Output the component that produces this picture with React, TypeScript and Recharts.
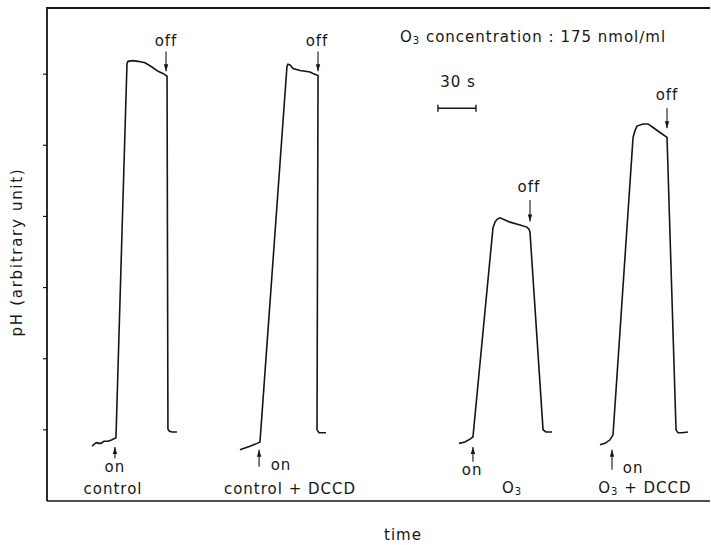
import React from 'react';
import { ComposedChart, Line, XAxis, YAxis, Scatter, ReferenceLine } from 'recharts';

const FONT = '"DejaVu Sans", "Liberation Sans", sans-serif';
const INK = '#161616';

// Recorded traces: [time (s), pH (arbitrary unit)]
const controlTrace: [number, number][] = [
  [35.5, 0.77], [37.9, 0.81], [39.5, 0.82], [41.0, 0.81], [42.6, 0.81], [44.9, 0.84],
  [48.1, 0.84], [51.3, 0.86], [54.4, 0.89], [63.1, 6.15], [63.9, 6.18], [67.8, 6.19],
  [71.8, 6.18], [77.3, 6.16], [82.8, 6.10], [87.6, 6.04], [91.5, 6.01], [94.7, 5.97],
  [95.4, 1.01], [96.6, 0.98], [98.6, 0.97], [102.5, 0.97],
];
const controlDccdTrace: [number, number][] = [
  [152.2, 0.72], [160.1, 0.77], [165.7, 0.81], [168.0, 0.83], [189.3, 6.11], [190.1, 6.14],
  [191.7, 6.13], [194.1, 6.08], [199.6, 6.05], [207.5, 6.03], [209.8, 6.01], [213.8, 5.98],
  [213.0, 1.00], [214.6, 0.96], [220.1, 0.96],
];
const ozoneTrace: [number, number][] = [
  [325.0, 0.81], [329.7, 0.83], [333.7, 0.87], [336.0, 0.90], [351.8, 3.84], [353.4, 3.92],
  [355.0, 3.96], [357.3, 3.98], [365.2, 3.92], [373.1, 3.88], [378.6, 3.85], [380.2, 3.82],
  [381.0, 3.78], [391.3, 1.00], [393.6, 0.97], [398.4, 0.97],
];
const ozoneDccdTrace: [number, number][] = [
  [436.2, 0.79], [440.2, 0.81], [444.1, 0.86], [446.5, 0.93], [462.3, 5.11], [463.9, 5.21],
  [465.4, 5.27], [470.2, 5.30], [474.1, 5.30], [478.1, 5.25], [483.6, 5.18], [489.1, 5.11],
  [496.2, 1.00], [497.8, 0.96], [501.0, 0.96], [505.6, 0.97],
];

// Condition labels under each trace: [time, level, text]
const conditionLabels: [number, number, string][] = [
  [52.1, 0.17, 'control'],
  [191.7, 0.17, 'control + DCCD'],
  [366.8, 0.18, 'O₃'],
  [471.7, 0.18, 'O₃ + DCCD'],
];

// "on" / "off" markers: [time, arrow tip level, arrow tail level]
const onArrows: [number, number, number][] = [
  [53.6, 0.76, 0.60],
  [167.3, 0.72, 0.48],
  [336.0, 0.76, 0.55],
  [445.7, 0.72, 0.44],
];
const offArrows: [number, number, number][] = [
  [93.9, 6.04, 6.32],
  [213.8, 6.04, 6.32],
  [381.0, 3.93, 4.23],
  [489.1, 5.24, 5.52],
];
// marker texts: [time, level, text]
const markerTexts: [number, number, string][] = [
  [53.6, 0.48, 'on'], [184.6, 0.51, 'on'], [335.3, 0.44, 'on'], [462.3, 0.46, 'on'],
  [93.9, 6.46, 'off'], [213.0, 6.46, 'off'], [380.2, 4.41, 'off'], [489.1, 5.70, 'off'],
];

const noteTexts: [number, number, string][] = [
  [383.4, 6.52, 'O₃ concentration : 175 nmol∕ml'],
  [324.2, 5.89, '30 s'],
];

const scaleBarStart = 308.4;
const scaleBarSeconds = 30;
const scaleBarLevel = 5.52;

const yTicks = [1, 2, 3, 4, 5, 6];
const timeDomain = [0, 523];
const phDomain = [0, 7];
const frameTop = 6.93;

const toPoints = (arr: [number, number][]) => arr.map(([t, v]) => ({ t, v }));
const toTexts = (arr: [number, number, string][]) => arr.map(([t, v, text]) => ({ t, v, text }));

const traces = [controlTrace, controlDccdTrace, ozoneTrace, ozoneDccdTrace].map(toPoints);
const textPoints = [...toTexts(conditionLabels), ...toTexts(markerTexts), ...toTexts(noteTexts)];
const arrowTips = [...onArrows, ...offArrows].map(([t, tip, tail]) => ({ t, v: tip, down: tip < tail }));
const arrowShafts = [...onArrows, ...offArrows];
const frame = [{ t: timeDomain[0], v: 0 }, { t: timeDomain[0], v: frameTop }, { t: timeDomain[1], v: frameTop }];

function rich(text: string) {
  const parts = text.split('₃');
  const out: React.ReactNode[] = [];
  parts.forEach((p, i) => {
    if (p.length) out.push(<tspan key={'p' + i} dy={i > 0 ? -3 : 0}>{p}</tspan>);
    if (i < parts.length - 1) out.push(<tspan key={'s' + i} fontSize={10} dy={3}>3</tspan>);
  });
  return out;
}

const TextShape = (props: any) => {
  const { cx, cy, payload } = props;
  if (cx == null || cy == null) return <g />;
  return (
    <text x={cx} y={cy} textAnchor="middle" dominantBaseline="central" fontFamily={FONT}
      fontSize={15} letterSpacing={1} fill={INK}>
      {rich(payload.text)}
    </text>
  );
};

const ArrowHead = (props: any) => {
  const { cx, cy, payload } = props;
  if (cx == null || cy == null) return <g />;
  const d = payload.down ? 1 : -1;
  const pts = `${cx},${cy} ${cx - 2.2},${cy - d * 7} ${cx + 2.2},${cy - d * 7}`;
  return <polygon points={pts} fill={INK} />;
};

const YTitle = (props: any) => {
  const vb = props.viewBox || { x: 46, y: 3, width: 1, height: 498 };
  const x = vb.x + vb.width - 30;
  const y = vb.y + vb.height / 2;
  return (
    <text x={x} y={y} transform={`rotate(-90 ${x} ${y})`} textAnchor="middle" dominantBaseline="central"
      fontFamily={FONT} fontSize={15} letterSpacing={1.7} fill={INK}>
      pH (arbitrary unit)
    </text>
  );
};

const XTitle = (props: any) => {
  const vb = props.viewBox || { x: 47, y: 501, width: 663, height: 1 };
  return (
    <text x={vb.x + 356} y={vb.y + 34} textAnchor="middle" dominantBaseline="central"
      fontFamily={FONT} fontSize={15} letterSpacing={1} fill={INK}>
      time
    </text>
  );
};

const EmptyTick = () => <g />;

export default function App() {
  return (
    <div style={{ position: 'absolute', left: 0, top: 0, width: 711, height: 545, background: '#fff' }}>
      <ComposedChart width={711} height={545} margin={{ top: 3, right: 1, bottom: 43, left: 46 }}>
        <XAxis type="number" dataKey="t" domain={timeDomain} height={1} tick={false} tickLine={false}
          axisLine={{ stroke: INK, strokeWidth: 1.6 }} label={<XTitle />} />
        <YAxis type="number" dataKey="v" domain={phDomain} ticks={yTicks} interval={0} width={1}
          tickSize={4} tick={<EmptyTick />} tickLine={{ stroke: INK, strokeWidth: 1.2 }}
          axisLine={false} label={<YTitle />} />

        <Line data={frame} dataKey="v" type="linear" stroke={INK} strokeWidth={1.8}
          dot={false} activeDot={false} isAnimationActive={false} />

        {traces.map((data, i) => (
          <Line key={i} data={data} dataKey="v" type="linear" stroke={INK} strokeWidth={1.6}
            dot={false} activeDot={false} isAnimationActive={false} />
        ))}

        {arrowShafts.map(([t, tip, tail], i) => (
          <ReferenceLine key={'a' + i} segment={[{ x: t, y: tail }, { x: t, y: tip }]}
            stroke={INK} strokeWidth={1.1} />
        ))}

        <ReferenceLine segment={[{ x: scaleBarStart, y: scaleBarLevel }, { x: scaleBarStart + scaleBarSeconds, y: scaleBarLevel }]}
          stroke={INK} strokeWidth={1.4} />
        <ReferenceLine segment={[{ x: scaleBarStart, y: scaleBarLevel - 0.05 }, { x: scaleBarStart, y: scaleBarLevel + 0.05 }]}
          stroke={INK} strokeWidth={1.4} />
        <ReferenceLine segment={[{ x: scaleBarStart + scaleBarSeconds, y: scaleBarLevel - 0.05 }, { x: scaleBarStart + scaleBarSeconds, y: scaleBarLevel + 0.05 }]}
          stroke={INK} strokeWidth={1.4} />

        <Scatter data={arrowTips} dataKey="v" shape={<ArrowHead />} isAnimationActive={false} />
        <Scatter data={textPoints} dataKey="v" shape={<TextShape />} isAnimationActive={false} />
      </ComposedChart>
    </div>
  );
}
